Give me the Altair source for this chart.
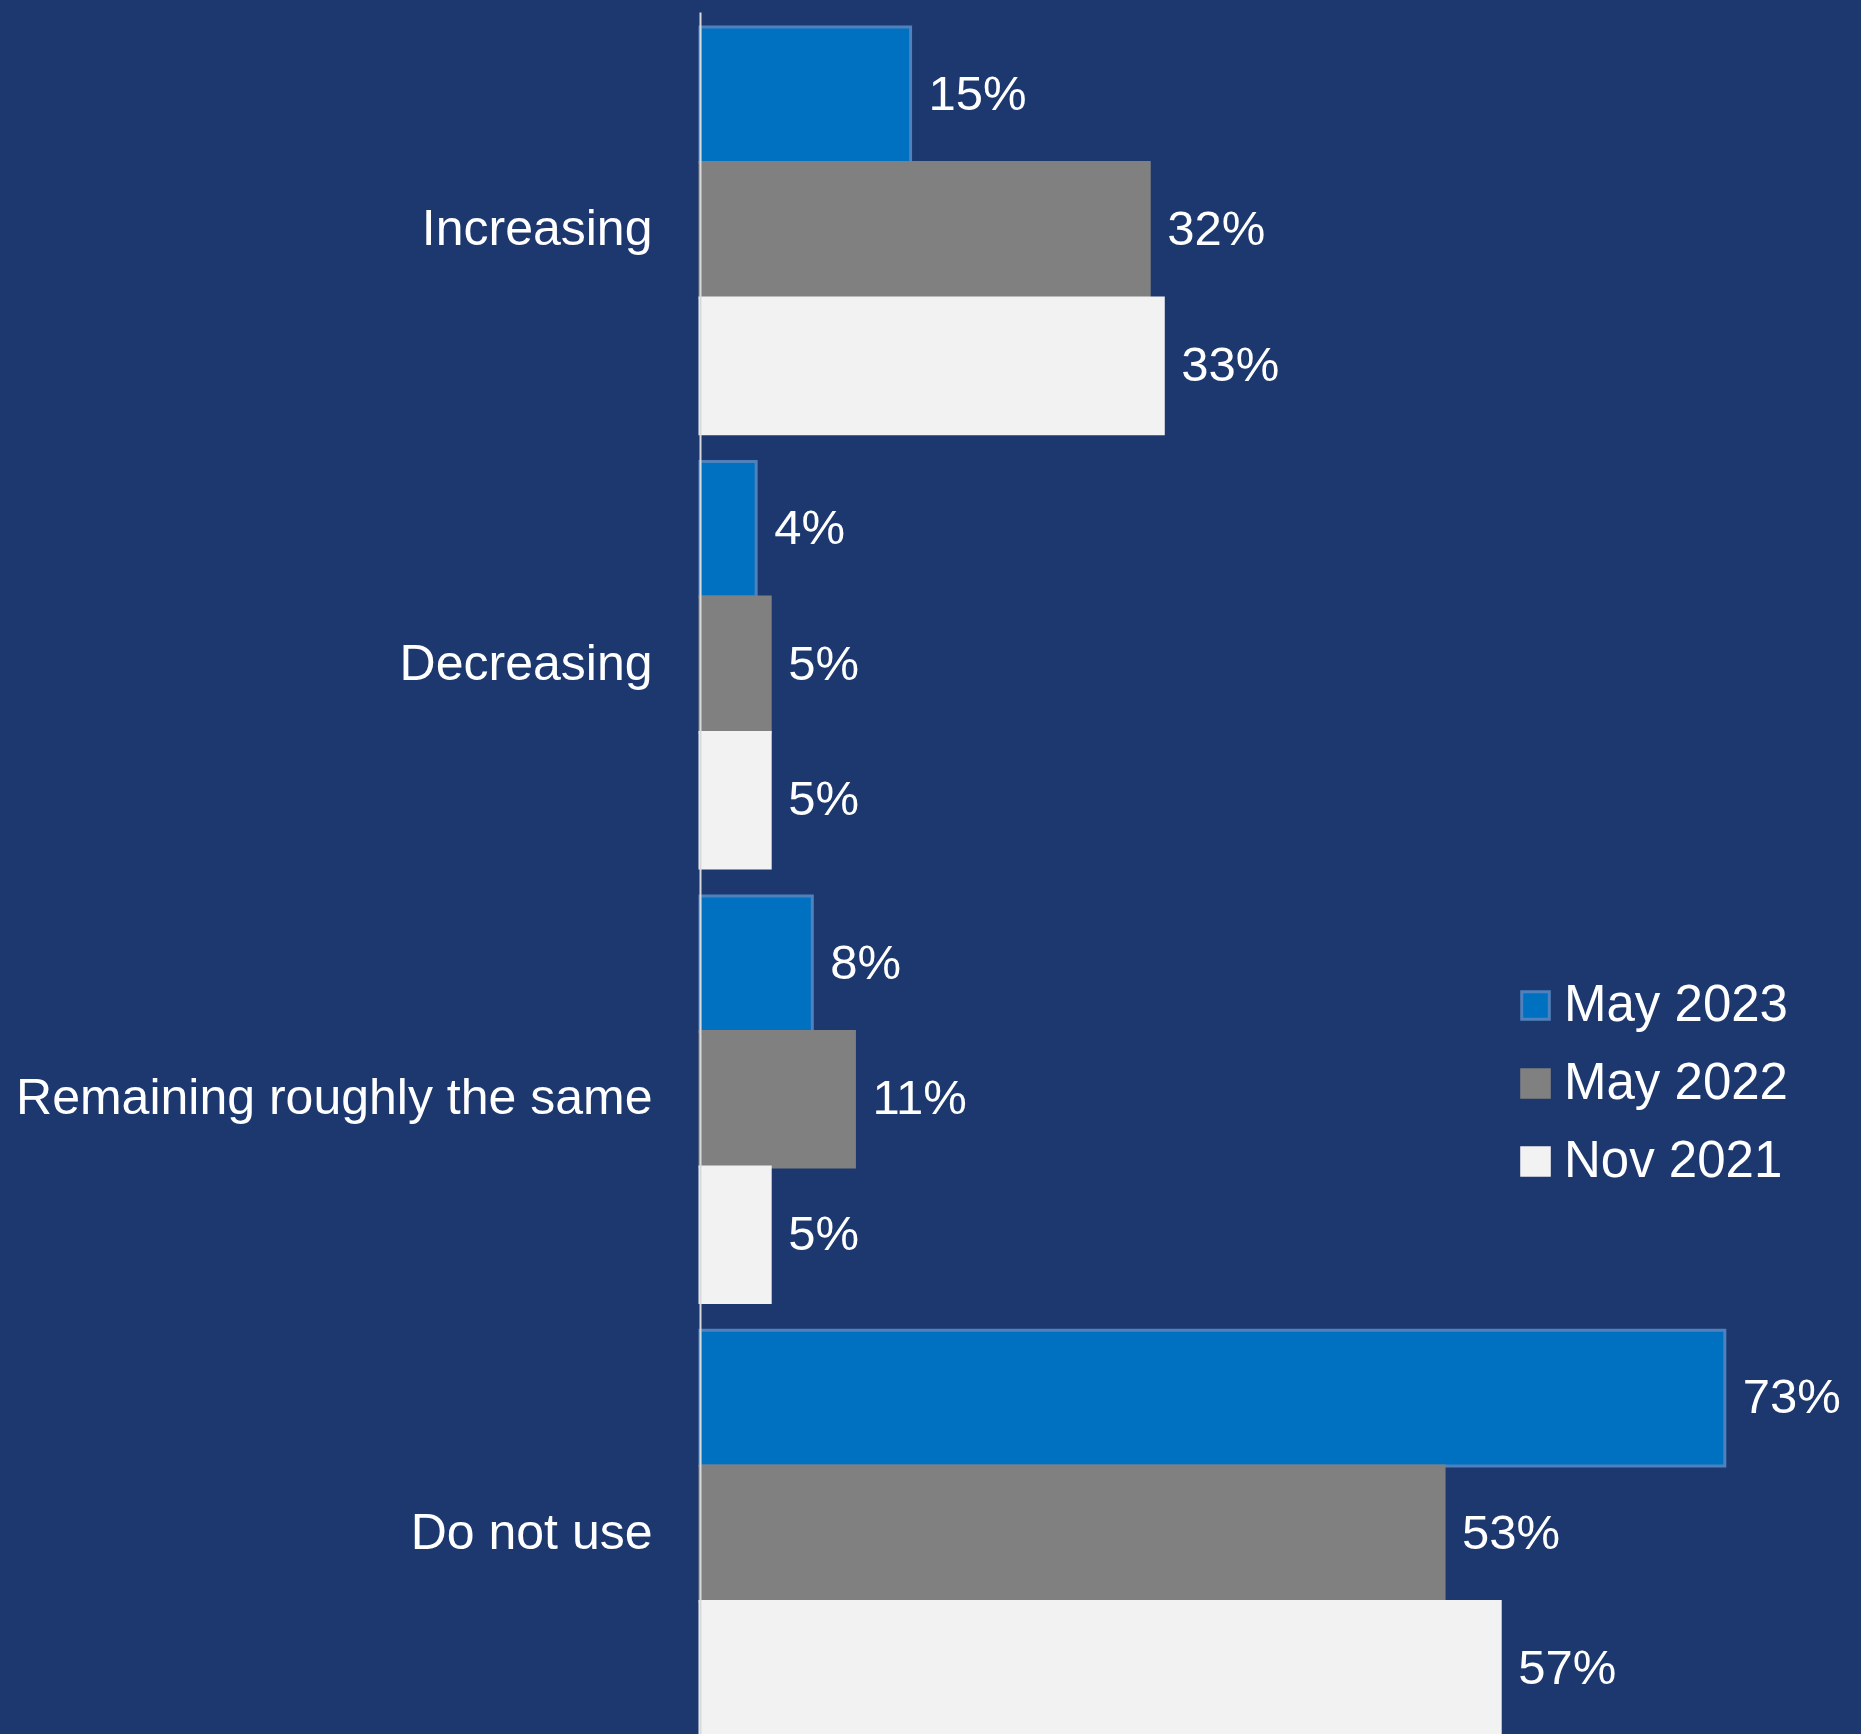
import altair as alt
import pandas as pd

categories = ["Increasing", "Decreasing", "Remaining roughly the same", "Do not use"]
series = ["May 2023", "May 2022", "Nov 2021"]
may_2023 = [15, 4, 8, 73]
may_2022 = [32, 5, 11, 53]
nov_2021 = [33, 5, 5, 57]

fills = ["#0070C0", "#808080", "#F2F2F2"]
strokes = ["#4F81BD", "#808080", "#F2F2F2"]
FONT = "Liberation Sans, Arial, sans-serif"
BG = "#1C386F"

rows = []
for s, vals in zip(series, [may_2023, may_2022, nov_2021]):
    for c, v in zip(categories, vals):
        rows.append({"category": c, "series": s, "value": v, "label": f"{v}%"})
df = pd.DataFrame(rows)

y_scale = alt.Scale(domain=categories, paddingInner=0.064, paddingOuter=0.0345)
yoff_scale = alt.Scale(domain=series, paddingInner=0, paddingOuter=0)
x_scale = alt.Scale(domain=[0, 82.7], nice=False, zero=True)

legend = alt.Legend(
    title=None, orient="none", legendX=810, legendY=968, padding=0,
    symbolType="square", symbolSize=760, symbolStrokeWidth=3,
    labelFontSize=51, labelColor="#FFFFFF", labelFont=FONT,
    labelOffset=3, rowPadding=26, labelLimit=0,
)

bars = alt.Chart(df).mark_bar(strokeWidth=3, cornerRadius=0).encode(
    x=alt.X("value:Q", scale=x_scale, axis=None),
    y=alt.Y("category:N", scale=y_scale, sort=categories,
            axis=alt.Axis(title=None, labelFontSize=50, labelColor="#FFFFFF", labelFont=FONT,
                          labelPadding=48, ticks=False, domainColor="#D9D9D9", domainWidth=2,
                          labelLimit=0, grid=False, zindex=1)),
    yOffset=alt.YOffset("series:N", scale=yoff_scale, sort=series),
    fill=alt.Fill("series:N", scale=alt.Scale(domain=series, range=fills), legend=legend),
    stroke=alt.Stroke("series:N", scale=alt.Scale(domain=series, range=strokes), legend=legend),
)

texts = alt.Chart(df).mark_text(
    align="left", baseline="middle", dx=18, fontSize=49, font=FONT, color="#FFFFFF"
).encode(
    x=alt.X("value:Q", scale=x_scale, axis=None),
    y=alt.Y("category:N", scale=y_scale, sort=categories),
    yOffset=alt.YOffset("series:N", scale=yoff_scale, sort=series),
    text="label:N",
)

chart = alt.layer(bars, texts).properties(
    width=1161, height=1740,
    padding={"left": 700, "top": 12, "right": 0, "bottom": 0},
    autosize=alt.AutoSizeParams(type="none"),
    background=BG,
).configure_view(stroke=None)

chart.save("out.html", embed_options={"renderer": "svg", "actions": False})
